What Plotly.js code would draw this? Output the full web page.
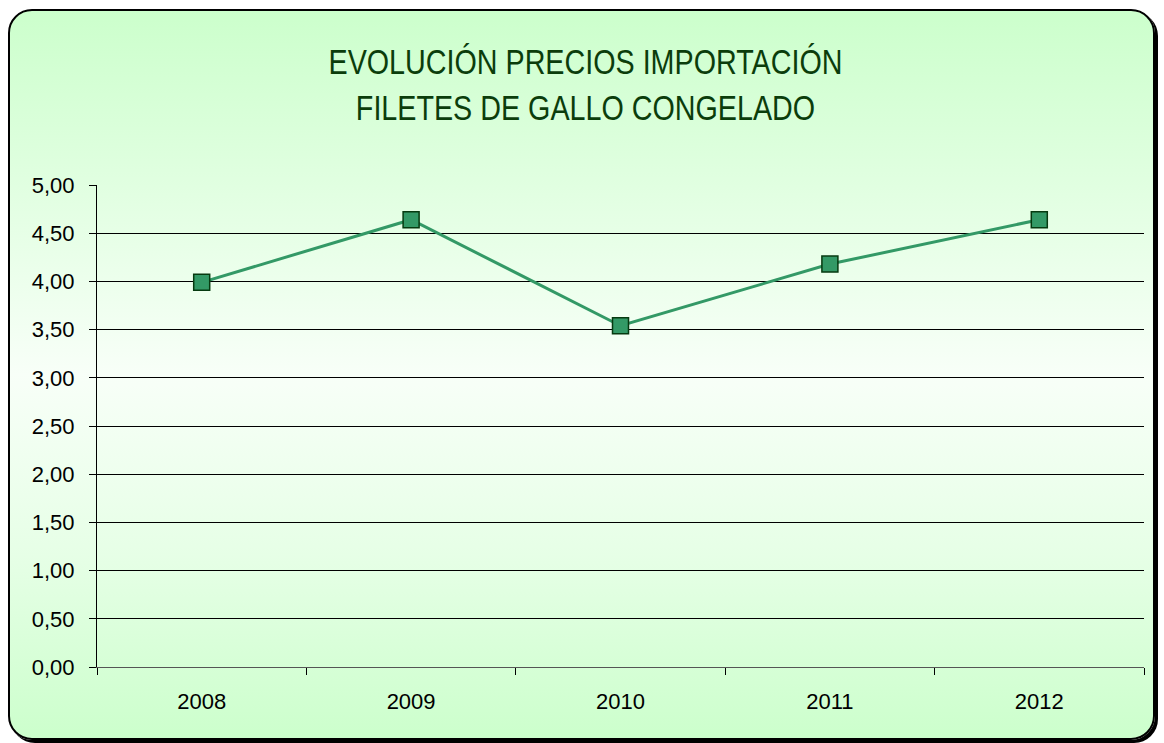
<!DOCTYPE html>
<html>
<head>
<meta charset="utf-8">
<script src="https://cdn.plot.ly/plotly-3.0.1.min.js"></script>
<style>
  html, body { margin: 0; padding: 0; background: #ffffff; }
  #frame {
    position: absolute; left: 8px; top: 9px; width: 1143px; height: 727px;
    border: 2px solid #000; border-radius: 24px;
    box-shadow: 3px 3px 0 #000;
    background: linear-gradient(to bottom, #ccffcc 0%, #e6ffe6 30%, #f8fff8 50%, #e6ffe6 75%, #ccffcc 100%);
  }
  #chart { position: absolute; left: 0; top: 0; width: 1164px; height: 743px; }
</style>
</head>
<body>
<div id="frame"></div>
<div id="chart"></div>
<script>
const years = ['2008', '2009', '2010', '2011', '2012'];
const prices = [3.99, 4.64, 3.54, 4.18, 4.64];
const yTicks = [0, 0.5, 1, 1.5, 2, 2.5, 3, 3.5, 4, 4.5, 5];
const titleText = 'EVOLUCIÓN PRECIOS IMPORTACIÓN<br>FILETES DE GALLO CONGELADO';

const trace = {
  x: years,
  y: prices,
  type: 'scatter',
  mode: 'lines+markers',
  line: { color: '#339966', width: 3 },
  marker: { symbol: 'square', size: 16, color: '#339966', line: { color: '#063a10', width: 1.5 } },
  hoverinfo: 'x+y'
};

const layout = {
  width: 1164, height: 743,
  paper_bgcolor: 'rgba(0,0,0,0)',
  plot_bgcolor: 'rgba(0,0,0,0)',
  margin: { l: 97, r: 20, t: 185, b: 76 },
  separators: ',.',
  showlegend: false,
  title: {
    text: titleText,
    font: { family: "'Liberation Sans', Arial, sans-serif", size: 35, color: '#0b3d0b' },
    x: 0.503, xanchor: 'center',
    y: 0.90, yanchor: 'top', yref: 'container'
  },
  xaxis: {
    type: 'category',
    range: [-0.5, 4.5],
    showgrid: false,
    showline: true, linecolor: '#555', linewidth: 1,
    ticks: 'outside', tickson: 'boundaries', ticklen: 7, tickcolor: '#000', tickwidth: 1,
    tickfont: { family: "'Liberation Sans', Arial, sans-serif", size: 22, color: '#000' },
    ticklabelstandoff: 15,
    zeroline: false,
    fixedrange: true
  },
  yaxis: {
    range: [0, 5],
    tickvals: yTicks,
    tickformat: '.2f',
    showgrid: true, gridcolor: '#000', gridwidth: 1,
    showline: true, linecolor: '#000', linewidth: 1,
    ticks: 'outside', ticklen: 7, tickcolor: '#000', tickwidth: 1,
    tickfont: { family: "'Liberation Sans', Arial, sans-serif", size: 22, color: '#000' },
    ticklabelstandoff: 10,
    zeroline: false,
    fixedrange: true
  }
};

// Narrow the title horizontally to mimic the reference's condensed typeface
function condenseTitle(gd) {
  const t = gd.querySelector('.gtitle');
  if (!t) return;
  const bb = t.getBBox();
  const cx = bb.x + bb.width / 2;
  const s = 0.82;
  t.setAttribute('transform', 'translate(' + cx + ',0) scale(' + s + ',1) translate(' + (-cx) + ',0)');
}

Plotly.newPlot('chart', [trace], layout, { displayModeBar: false, staticPlot: true })
  .then(gd => condenseTitle(gd));
</script>
</body>
</html>
